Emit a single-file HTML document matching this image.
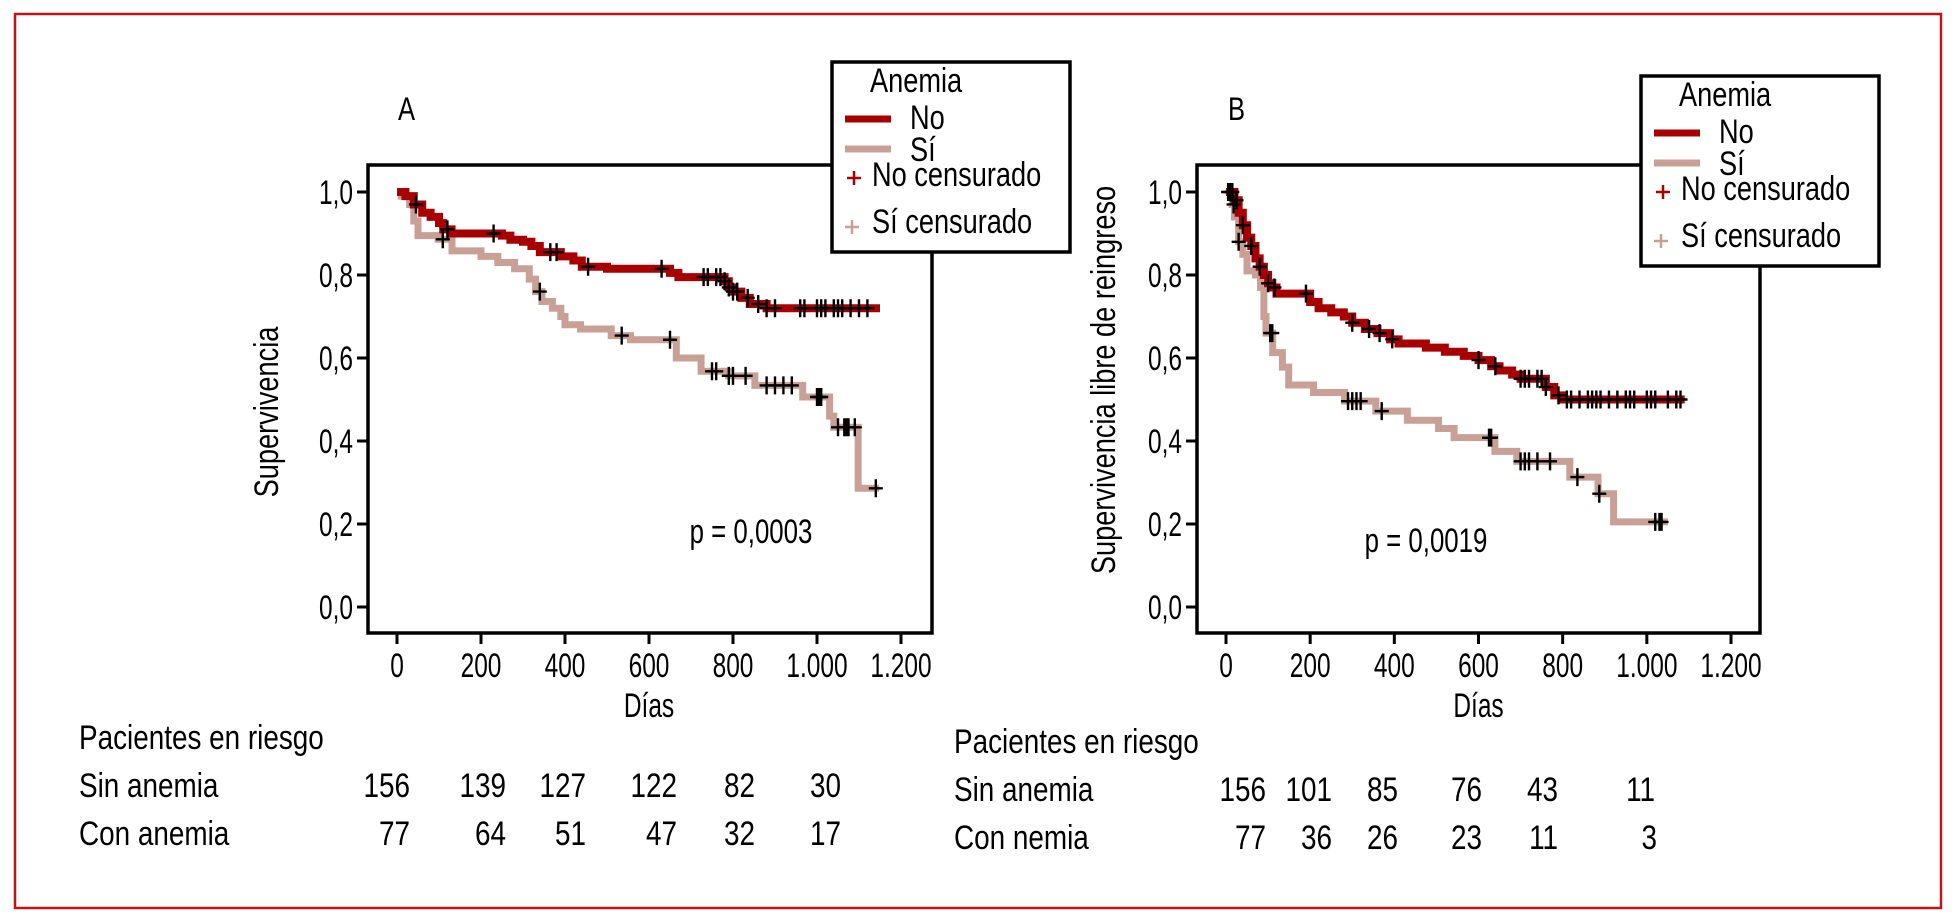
<!DOCTYPE html>
<html><head><meta charset="utf-8">
<style>
html,body{margin:0;padding:0;background:#fff;}
svg{display:block;font-family:"Liberation Sans",sans-serif;}
</style></head>
<body>
<svg id="chart" width="1956" height="922" xmlns="http://www.w3.org/2000/svg">
<rect x="15" y="14" width="1926" height="894" fill="none" stroke="#c0141c" stroke-width="2.5"/>
<g id="panelA"></g>
<g id="panelB"></g>
</svg>
<script>
// ---------- Panel A data ----------
const ticksX = [0,200,400,600,800,1000,1200];
const tickLabelsX = ["0","200","400","600","800","1.000","1.200"];
const ticksY = [0,0.2,0.4,0.6,0.8,1.0];
const tickLabelsY = ["0,0","0,2","0,4","0,6","0,8","1,0"];
const aNoDays = [0,20,40,60,80,100,110,130,250,270,300,320,340,390,420,440,500,650,670,780,790,800,820,840,880,1150];
const aNoSurv = [1,0.99,0.97,0.95,0.94,0.925,0.91,0.90,0.895,0.885,0.88,0.87,0.855,0.845,0.835,0.82,0.815,0.805,0.795,0.785,0.77,0.76,0.745,0.73,0.72,0.72];
const aNoCensDays = [45,120,230,365,380,455,630,730,740,760,770,780,790,800,810,835,860,880,900,960,970,1000,1010,1020,1040,1050,1060,1080,1100,1120];
const aSiDays = [0,10,30,40,50,98,131,200,240,280,315,330,345,370,390,400,437,510,556,665,724,790,852,966,1030,1040,1098,1148];
const aSiSurv = [1,0.99,0.97,0.93,0.895,0.886,0.858,0.845,0.83,0.815,0.79,0.76,0.736,0.72,0.70,0.68,0.67,0.654,0.644,0.60,0.568,0.557,0.534,0.506,0.46,0.433,0.286,0.286];
const aSiCensDays = [109,340,535,650,750,760,790,800,830,880,900,920,940,1000,1005,1010,1050,1065,1070,1075,1090,1140];
const aRiskSin = ["156","139","127","122","82","30"];
const aRiskCon = ["77","64","51","47","32","17"];
// ---------- Panel B data ----------
const bNoDays = [0,20,30,40,50,60,70,80,90,100,110,120,200,220,250,280,300,330,360,390,410,475,520,565,600,630,650,680,700,760,780,800,1090];
const bNoSurv = [1,0.98,0.95,0.92,0.89,0.87,0.84,0.82,0.80,0.78,0.77,0.755,0.735,0.72,0.71,0.70,0.685,0.67,0.66,0.645,0.635,0.625,0.615,0.605,0.595,0.58,0.57,0.56,0.55,0.53,0.51,0.50,0.50];
const bNoCensDays = [5,10,15,25,40,60,80,100,115,190,300,340,365,395,600,640,700,710,720,740,750,760,790,810,820,840,860,870,880,890,910,930,950,960,970,1000,1010,1020,1050,1070,1080];
const bSiDays = [0,15,20,30,40,50,70,82,90,95,111,134,149,208,282,356,431,505,542,639,691,817,884,921,1050];
const bSiSurv = [1,0.97,0.94,0.88,0.85,0.81,0.80,0.77,0.70,0.66,0.613,0.578,0.535,0.517,0.496,0.472,0.45,0.43,0.408,0.375,0.351,0.313,0.273,0.205,0.205];
const bSiCensDays = [18,30,105,110,290,300,310,320,370,625,630,700,710,720,740,770,835,887,1020,1030,1035];
const bRiskSin = ["156","101","85","76","43","11"];
const bRiskCon = ["77","36","26","23","11","3"];

const NS="http://www.w3.org/2000/svg";
const RED="#a80000", PINK="#c9a096";
function mk(parent,tag,attrs,text){const e=document.createElementNS(NS,tag);for(const k in attrs)e.setAttribute(k,attrs[k]);if(text!==undefined)e.textContent=text;parent.appendChild(e);return e;}
function T(parent,x,y,str,size,anchor,fill,rot,sx){
  const tr=`translate(${x},${y})`+(rot?' rotate(-90)':'')+` scale(${sx||0.8},1)`;
  return mk(parent,'text',{x:0,y:0,transform:tr,'font-size':size,'text-anchor':anchor||'start',fill:fill||'#000'},str);
}
function survAt(days,surv,d){let v=surv[0];for(let i=0;i<days.length;i++){if(days[i]<=d)v=surv[i];}return v;}

function panel(g,cfg){
  const X=d=>cfg.x0+(d/1200)*(cfg.x1200-cfg.x0);
  const Y=v=>cfg.y0-(v)*(cfg.y0-cfg.y1);
  const box=mk(g,'rect',{x:cfg.bx,y:cfg.by,width:cfg.bw,height:cfg.bh,fill:'none',stroke:'#000','stroke-width':3.5});
  
  
  ticksX.forEach((t,i)=>{
    const l=mk(g,'line',{x1:X(t),x2:X(t),y1:cfg.by+cfg.bh,y2:cfg.by+cfg.bh+11,stroke:'#000','stroke-width':3});
    
    
    const tx=T(g,X(t),cfg.by+cfg.bh+44,tickLabelsX[i],34,'middle',null,false,0.72);
    
    
  });
  ticksY.forEach((t,i)=>{
    const l=mk(g,'line',{x1:cfg.bx-11,x2:cfg.bx,y1:Y(t),y2:Y(t),stroke:'#000','stroke-width':3});
    
    
    const tx=T(g,cfg.bx-15,Y(t)+12,tickLabelsY[i],34,'end',null,false,0.72);
    
    
  });
  const xt=T(g,(X(0)+X(1200))/2,cfg.by+cfg.bh+84,'Días',34,'middle',null,false,0.72);
  
  
  const yt=T(g,cfg.ytx,cfg.yty,cfg.ytitle,34,'middle','#000',true,0.8);
  
  
  const pl=T(g,cfg.px,cfg.py,cfg.ptext,34,'middle',null,false,0.76);
  
  
  const lt=T(g,cfg.lx,cfg.ly,cfg.letter,32,'start');
  
  
  function curve(days,surv,color,w,name){
    let d=`M${X(days[0])},${Y(surv[0])}`;
    for(let i=1;i<days.length;i++){d+=` H${X(days[i])} V${Y(surv[i])}`;}
    const p=mk(g,'path',{d:d,fill:'none',stroke:color,'stroke-width':w});
    
    
  }
  curve(cfg.siD,cfg.siS,PINK,7,'curve-anemia-si');
  curve(cfg.noD,cfg.noS,RED,8,'curve-anemia-no');
  function cens(list,days,surv,name){
    list.forEach(d=>{
      const cx=X(d),cy=Y(survAt(days,surv,d));
      const c=mk(g,'path',{d:`M${cx-7},${cy} H${cx+7} M${cx},${cy-9} V${cy+9}`,stroke:'#000','stroke-width':2.4,fill:'none'});
      
      
    });
  }
  cens(cfg.noC,cfg.noD,cfg.noS,'censor-mark-no');
  cens(cfg.siC,cfg.siD,cfg.siS,'censor-mark-si');
  const L=mk(g,'g',{transform:`translate(${cfg.legx},${cfg.legy})`});
  
  
  mk(L,'rect',{x:0,y:0,width:238,height:190,fill:'#fff',stroke:'#000','stroke-width':3.5});
  T(L,38,30,'Anemia',34);
  mk(L,'line',{x1:13,x2:59,y1:57,y2:57,stroke:RED,'stroke-width':7});
  T(L,78,67,'No',34);
  mk(L,'line',{x1:13,x2:59,y1:87,y2:87,stroke:PINK,'stroke-width':7});
  T(L,78,99,'Sí',34);
  mk(L,'path',{d:'M15,116 H29 M22,109 V123',stroke:RED,'stroke-width':2.5});
  T(L,40,124,'No censurado',34);
  mk(L,'path',{d:'M13,165 H27 M20,158 V172',stroke:PINK,'stroke-width':2.5});
  T(L,40,171,'Sí censurado',34);
  const Tb=mk(g,'g',{});
  
  
  T(Tb,cfg.tx,cfg.ty,'Pacientes en riesgo',34,'start',null,false,0.82);
  T(Tb,cfg.tx,cfg.ty+48,'Sin anemia',34,'start',null,false,0.82);
  T(Tb,cfg.tx,cfg.ty+96,cfg.conLabel,34,'start',null,false,0.82);
  cfg.riskSin.forEach((v,i)=>T(Tb,cfg.colX[i],cfg.ty+48,v,34,'end',null,false,0.82));
  cfg.riskCon.forEach((v,i)=>T(Tb,cfg.colX2[i],cfg.ty+96,v,34,'end',null,false,0.82));
}

panel(document.getElementById('panelA'),{
  bx:368,by:165,bw:564,bh:468,x0:397,x1200:901,y0:607,y1:192,
  ytitle:'Supervivencia',ytx:278,yty:412,px:751,py:543,ptext:'p = 0,0003',letter:'A',lx:398,ly:120,
  noD:aNoDays,noS:aNoSurv,noC:aNoCensDays,siD:aSiDays,siS:aSiSurv,siC:aSiCensDays,
  legx:832,legy:62,tx:79,ty:749,conLabel:'Con anemia',riskSin:aRiskSin,riskCon:aRiskCon,
  colX:[410,506,586,677,755,841],colX2:[410,506,586,677,755,841]
});
panel(document.getElementById('panelB'),{
  bx:1197,by:165,bw:563,bh:468,x0:1226,x1200:1731,y0:607,y1:192,
  ytitle:'Supervivencia libre de reingreso',ytx:1115,yty:380,px:1426,py:552,ptext:'p = 0,0019',letter:'B',lx:1228,ly:120,
  noD:bNoDays,noS:bNoSurv,noC:bNoCensDays,siD:bSiDays,siS:bSiSurv,siC:bSiCensDays,
  legx:1641,legy:76,tx:954,ty:753,conLabel:'Con nemia',riskSin:bRiskSin,riskCon:bRiskCon,
  colX:[1266,1332,1398,1482,1558,1655],colX2:[1266,1332,1398,1482,1558,1657]
});
</script>
</body></html>
